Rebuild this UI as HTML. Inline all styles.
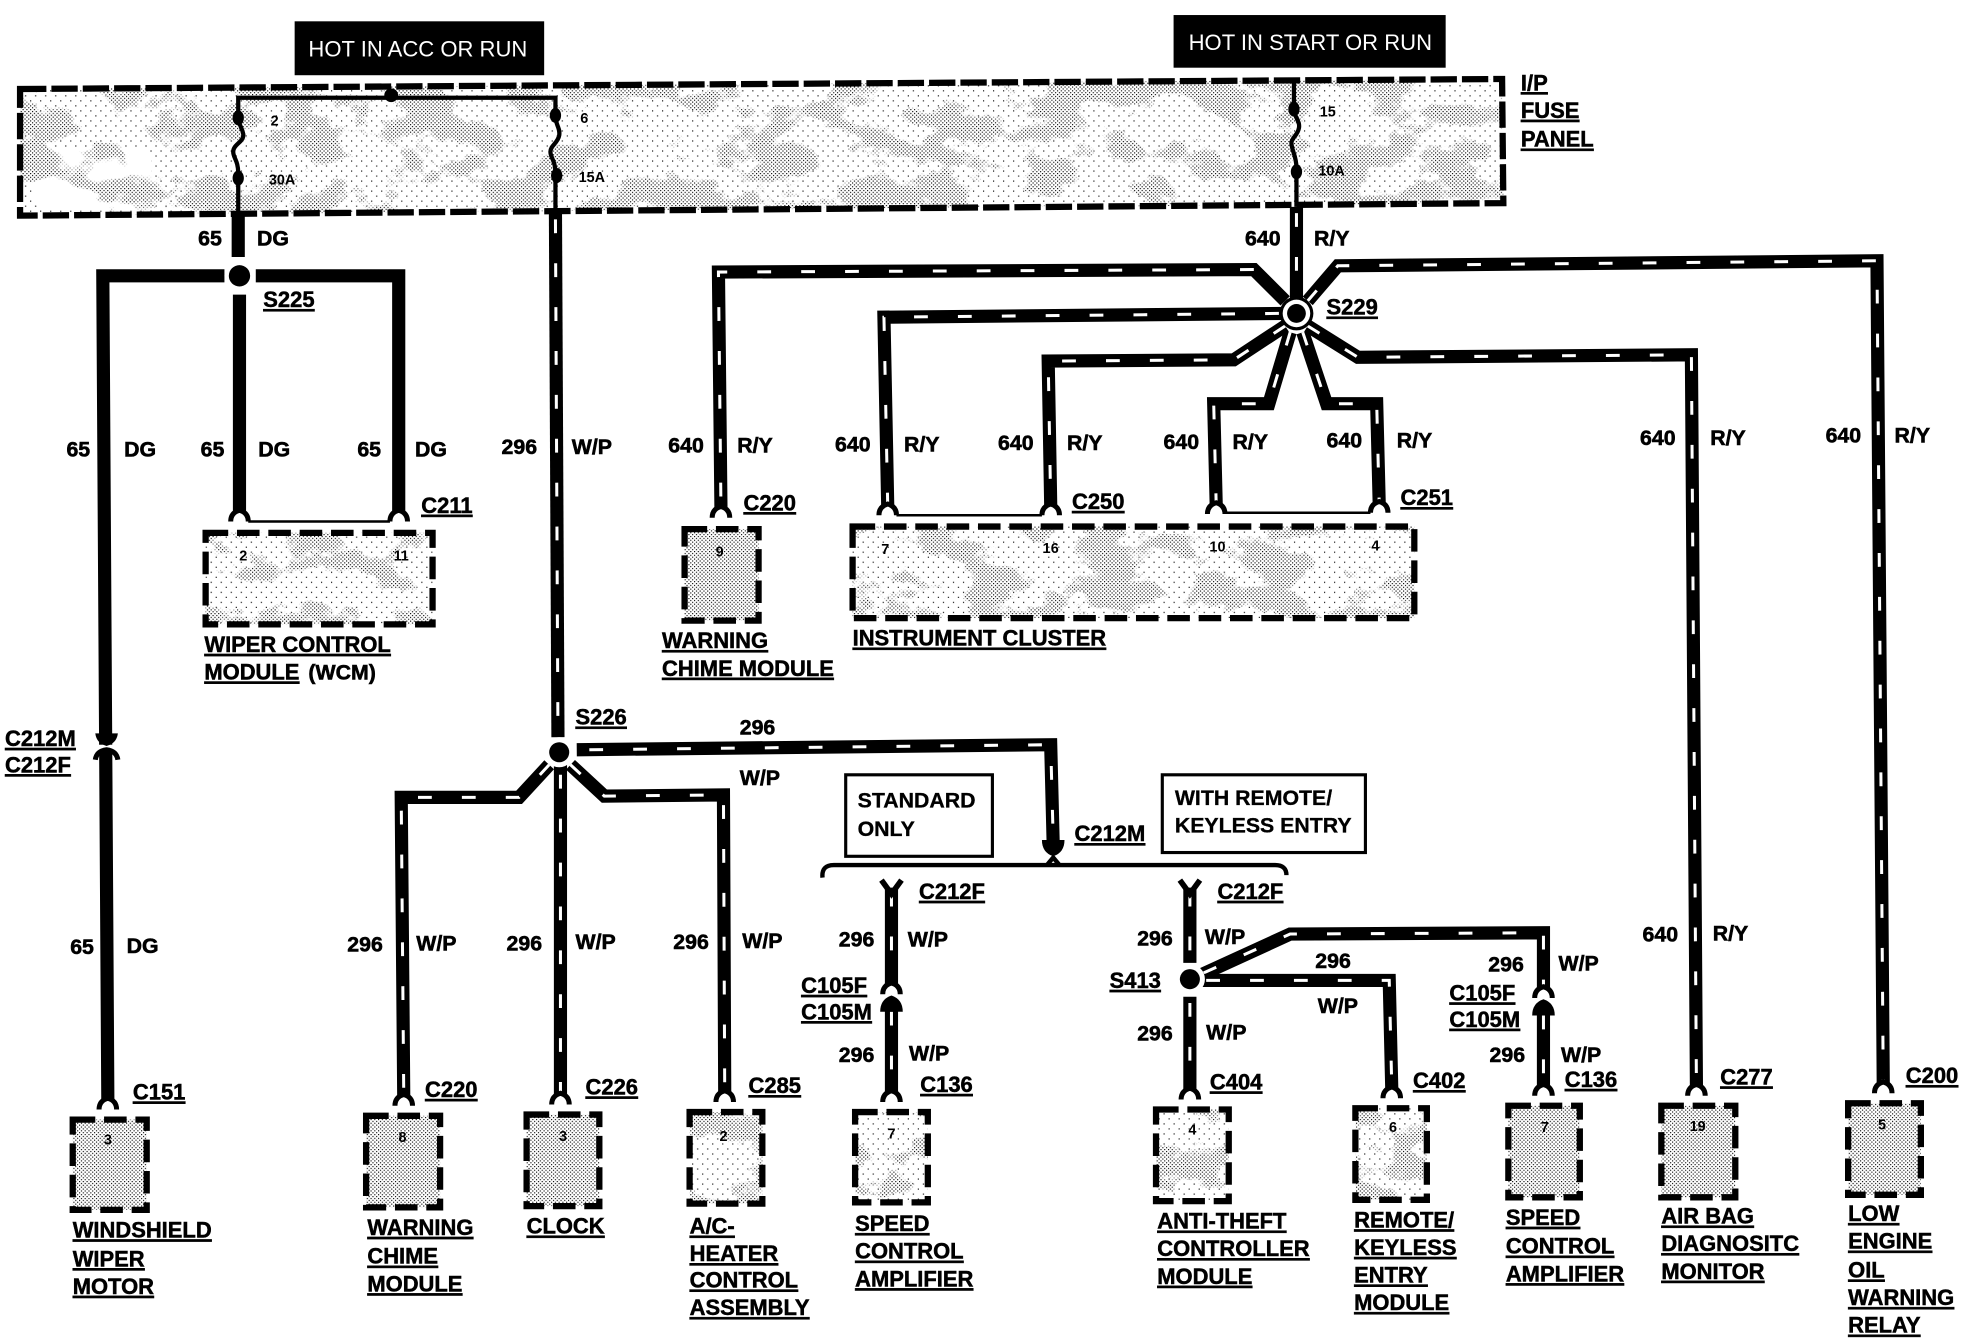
<!DOCTYPE html>
<html><head><meta charset="utf-8"><style>
html,body{margin:0;padding:0;background:#fff}
svg{display:block;font-family:"Liberation Sans",sans-serif}
.l{font-size:17.5px;font-weight:bold;text-decoration:underline;stroke:#000;stroke-width:.4}
.w{font-size:17px;font-weight:bold;stroke:#000;stroke-width:.45}
.p{font-size:11.5px;font-weight:bold;text-anchor:middle}
.b{font-size:17px;font-weight:bold;stroke:#000;stroke-width:.25}
.h{font-size:17.6px;fill:#fff}
.sb{fill:none;stroke:#000;stroke-width:10.5;stroke-linejoin:miter}
.sw{fill:none;stroke:#fff;stroke-width:2.4;stroke-dasharray:11 24}
.dk{fill:none;stroke:#000;stroke-width:10.5}
.bd{fill:none;stroke:#000;stroke-width:5;stroke-dasharray:18 7}
.fd{fill:url(#dn)}
.fs{fill:url(#sp)}
</style></head><body>
<svg width="1966" height="1344" viewBox="0 0 1568 1072" preserveAspectRatio="none" xmlns="http://www.w3.org/2000/svg">
<defs>
<pattern id="dn" width="3" height="3" patternUnits="userSpaceOnUse"><rect width="3" height="3" fill="#fff"/><rect width=".9" height=".9" fill="#000"/><rect x="1.5" y="1.5" width=".9" height=".9" fill="#000"/></pattern>
<pattern id="sp" width="8" height="8" patternUnits="userSpaceOnUse"><rect width="8" height="8" fill="#fff"/><rect width=".9" height=".9" fill="#000"/><rect x="4" y="4" width=".9" height=".9" fill="#000"/></pattern>
<filter id="nz" x="0" y="0" width="100%" height="100%" color-interpolation-filters="sRGB">
<feTurbulence type="fractalNoise" baseFrequency="0.022 0.035" numOctaves="4" seed="7"/>
<feColorMatrix type="matrix" values="0 0 0 0 1  0 0 0 0 1  0 0 0 0 1  14 0 0 0 -7"/>
</filter>
<mask id="mk" maskUnits="userSpaceOnUse" x="0" y="0" width="1568" height="1072"><rect width="1568" height="1072" fill="#fff" filter="url(#nz)"/></mask>
<g id="f"><path d="M-7,6 Q-7,-1 0,-3 Q7,-1 7,6" fill="none" stroke="#000" stroke-width="4"/></g>
<g id="m"><path d="M-9,-7 L9,-7 Q9,3 0,6 Q-9,3 -9,-7Z" fill="#000"/></g>
</defs>
<rect width="1568" height="1072" fill="#fff"/>

<!-- stipple fills -->
<polygon points="16,71 1198,63 1199,162 16,172" class="fs"/>
<rect x="26" y="118" width="95" height="50" rx="12" fill="#fff"/>
<rect x="164" y="425" width="181" height="73" class="fs"/>
<rect x="680" y="420" width="448" height="73" class="fs"/>
<rect x="550" y="887" width="58" height="73" class="fs"/>
<rect x="682" y="887" width="58" height="72" class="fs"/>
<rect x="922" y="885" width="58" height="73" class="fs"/>
<rect x="1081" y="884" width="57" height="73" class="fs"/>
<g mask="url(#mk)">
<polygon points="16,71 1198,63 1199,162 16,172" class="fd"/>
<rect x="164" y="425" width="181" height="73" class="fd"/>
<rect x="680" y="420" width="448" height="73" class="fd"/>
<rect x="550" y="887" width="58" height="73" class="fd"/>
<rect x="682" y="887" width="58" height="72" class="fd"/>
<rect x="922" y="885" width="58" height="73" class="fd"/>
<rect x="1081" y="884" width="57" height="73" class="fd"/>
</g>
<rect x="546" y="422" width="59" height="73" class="fd"/>
<rect x="58" y="893" width="59" height="72" class="fd"/>
<rect x="292" y="890" width="59" height="73" class="fd"/>
<rect x="420" y="889" width="58" height="73" class="fd"/>
<rect x="1203" y="882" width="57" height="73" class="fd"/>
<rect x="1325" y="882" width="59" height="73" class="fd"/>
<rect x="1474" y="880" width="58" height="73" class="fd"/>

<polygon points="16,71 1198,63 1199,162 16,172" fill="none" stroke="#000" stroke-width="5" stroke-dasharray="21 4"/>

<!-- hot boxes -->
<rect x="235" y="17" width="199" height="43" fill="#000"/>
<text x="246" y="45" class="h">HOT IN ACC OR RUN</text>
<rect x="936" y="12" width="217" height="42" fill="#000"/>
<text x="948" y="40" class="h">HOT IN START OR RUN</text>

<!-- internal fuses -->
<g fill="none" stroke="#000" stroke-width="3.4">
<path d="M190,172 V138 C190,128 186,126 186,121 C186,115 195,113 194,107 C193,101 190,100 190,92 V78 H443 V92 C443,100 447,102 446,108 C445,114 439,116 439,121 C439,126 443,128 443,138 V172"/>
<path d="M1032,65 V86 C1032,94 1037,96 1036,102 C1035,108 1030,110 1030,114 C1030,120 1034,124 1034,134 V165"/>
</g>
<g fill="#000"><circle cx="312" cy="76" r="5.5"/><ellipse cx="190" cy="94" rx="4.5" ry="6"/><ellipse cx="190" cy="142" rx="4.5" ry="6"/>
<ellipse cx="443" cy="92" rx="4.5" ry="6"/><ellipse cx="444" cy="140" rx="4.5" ry="6"/><ellipse cx="1032" cy="87" rx="4.5" ry="6"/><ellipse cx="1034" cy="137" rx="4.5" ry="6"/></g>
<text x="219" y="100" class="p">2</text><text x="225" y="147" class="p">30A</text>
<text x="466" y="98" class="p">6</text><text x="472" y="145" class="p">15A</text>
<text x="1059" y="93" class="p">15</text><text x="1062" y="140" class="p">10A</text>

<!-- DG wires -->
<g class="dk">
<path d="M190,172 V205"/>
<path d="M179,220 H82 L86,877"/>
<path d="M204,220 H318 V408"/>
<path d="M191,235 V408"/>
</g>
<circle cx="191" cy="220" r="12" fill="#fff"/><circle cx="191" cy="220" r="8.5" fill="#000"/>
<rect x="72" y="594" width="26" height="4" fill="#fff"/>
<path d="M76,585 H94 Q93,593 85,595 Q77,593 76,585Z" fill="#000"/>
<path d="M76,606 Q77,599 85,598 Q93,599 94,606" fill="none" stroke="#000" stroke-width="4"/>
<use href="#f" x="86" y="879"/><use href="#f" x="191" y="410"/><use href="#f" x="318" y="410"/>
<path d="M198,416 H311" stroke="#000" stroke-width="2"/>

<!-- striped wires S229 -->
<g>
<path class="sb" d="M1034,165 V240"/><path class="sw" d="M1034,170 V236"/>
<path class="sb" d="M1025,240 L1000,215 L573,217 L575,405"/><path class="sw" d="M1000,215 L573,217 L575,405"/>
<path class="sb" d="M1025,250 L705,253 L708,403"/><path class="sw" d="M1020,250 L705,253 L708,403"/>
<path class="sb" d="M1025,260 L984,287 L836,288 L838,403"/><path class="sw" d="M1025,260 L984,287 L836,288 L838,403"/>
<path class="sb" d="M1029,265 L1012,322 L968,322 L970,403"/><path class="sw" d="M1029,265 L1012,322 L968,322 L970,403"/>
<path class="sb" d="M1039,265 L1058,322 L1098,322 L1100,402"/><path class="sw" d="M1039,265 L1058,322 L1098,322 L1100,402"/>
<path class="sb" d="M1043,260 L1083,285 L1349,283 L1353,866"/><path class="sw" d="M1043,260 L1083,285 L1349,283 L1353,866"/>
<path class="sb" d="M1043,240 L1067,212 L1497,208 L1502,864"/><path class="sw" d="M1043,240 L1067,212 L1497,208 L1502,864"/>
</g>
<circle cx="1034" cy="250" r="13.5" fill="#000"/><circle cx="1034" cy="250" r="11" fill="#fff"/><circle cx="1034" cy="250" r="7.5" fill="#000"/>
<use href="#f" x="575" y="407"/><use href="#f" x="708" y="405"/><use href="#f" x="838" y="405"/><use href="#f" x="970" y="404"/><use href="#f" x="1100" y="403"/>
<use href="#f" x="1353" y="868"/><use href="#f" x="1502" y="866"/>
<path d="M715,411 H831 M977,409 H1093" stroke="#000" stroke-width="2"/>

<!-- striped wires S226 -->
<path class="sb" d="M443,170 L445,588"/><path class="sw" d="M443,175 L445,585"/>
<path class="sb" d="M460,598 L838,594 L840,674"/><path class="sw" d="M470,598 L838,594 L840,670"/>
<path class="sb" d="M438,610 L414,636 L320,636 L322,874"/><path class="sw" d="M438,610 L414,636 L320,636 L322,872"/>
<path class="sb" d="M447,610 V873"/><path class="sw" d="M447,618 V871"/>
<path class="sb" d="M455,610 L482,635 L577,634 L578,871"/><path class="sw" d="M455,610 L482,635 L577,634 L578,869"/>
<circle cx="446" cy="600" r="12" fill="#fff"/><circle cx="446" cy="600" r="8" fill="#000"/>
<use href="#f" x="322" y="876"/><use href="#f" x="447" y="875"/><use href="#f" x="578" y="873"/>
<use href="#m" x="840" y="677"/>

<!-- brace -->
<path d="M656,700 Q655,690 665,690 H1017 Q1026,690 1026,698 M835,690 L840,684 L845,690" fill="none" stroke="#000" stroke-width="3.5"/>

<!-- standard branch -->
<path class="sb" d="M711,708 V786"/><path class="sw" d="M711,712 V782"/>
<path class="sb" d="M711,803 V871"/><path class="sw" d="M711,807 V869"/>
<use href="#f" x="711" y="787"/><use href="#m" x="711" y="800" transform="rotate(180 711 800)"/>
<path d="M703,702 L711,713 L719,702" fill="none" stroke="#000" stroke-width="4.5"/>
<use href="#f" x="711" y="873"/>

<!-- keyless branch -->
<path class="sb" d="M949,708 V768"/><path class="sw" d="M949,712 V766"/>
<path class="sb" d="M949,795 V869"/><path class="sw" d="M949,800 V867"/>
<path d="M941,702 L949,713 L957,702" fill="none" stroke="#000" stroke-width="4.5"/>
<path class="sb" d="M957,778 L1029,745 L1231,744 V789"/><path class="sw" d="M960,776 L1029,745 L1231,744 V786"/>
<path class="sb" d="M1231,806 V866"/><path class="sw" d="M1231,810 V864"/>
<use href="#f" x="1231" y="790"/><use href="#m" x="1231" y="803" transform="rotate(180 1231 803)"/>
<path class="sb" d="M958,782 L1108,782 L1110,868"/><path class="sw" d="M962,782 L1108,782 L1110,866"/>
<circle cx="949" cy="781" r="12" fill="#fff"/><circle cx="949" cy="781" r="8" fill="#000"/>
<use href="#f" x="949" y="871"/><use href="#f" x="1110" y="870"/><use href="#f" x="1231" y="868"/>

<!-- option boxes -->
<rect x="674.5" y="618" width="117" height="65" fill="#fff" stroke="#000" stroke-width="2.5"/>
<text x="684" y="644" class="b">STANDARD</text><text x="684" y="667" class="b">ONLY</text>
<rect x="927" y="618" width="162" height="62" fill="#fff" stroke="#000" stroke-width="2.5"/>
<text x="937" y="642" class="b">WITH REMOTE/</text><text x="937" y="664" class="b">KEYLESS ENTRY</text>

<!-- module outlines -->
<rect x="164" y="425" width="181" height="73" class="bd"/>
<rect x="546" y="422" width="59" height="73" class="bd"/>
<rect x="680" y="420" width="448" height="73" class="bd"/>
<rect x="58" y="893" width="59" height="72" class="bd"/>
<rect x="292" y="890" width="59" height="73" class="bd"/>
<rect x="420" y="889" width="58" height="73" class="bd"/>
<rect x="550" y="887" width="58" height="73" class="bd"/>
<rect x="682" y="887" width="58" height="72" class="bd"/>
<rect x="922" y="885" width="58" height="73" class="bd"/>
<rect x="1081" y="884" width="57" height="73" class="bd"/>
<rect x="1203" y="882" width="57" height="73" class="bd"/>
<rect x="1325" y="882" width="59" height="73" class="bd"/>
<rect x="1474" y="880" width="58" height="73" class="bd"/>
<g>
<text x="194" y="447" class="p">2</text><text x="320" y="447" class="p">11</text><text x="574" y="444" class="p">9</text>
<text x="706" y="442" class="p">7</text><text x="838" y="441" class="p">16</text><text x="971" y="440" class="p">10</text><text x="1097" y="439" class="p">4</text>
<text x="86" y="913" class="p">3</text><text x="321" y="911" class="p">8</text><text x="449" y="910" class="p">3</text><text x="577" y="910" class="p">2</text>
<text x="711" y="908" class="p">7</text><text x="951" y="905" class="p">4</text><text x="1111" y="903" class="p">6</text><text x="1232" y="903" class="p">7</text><text x="1354" y="902" class="p">19</text><text x="1501" y="901" class="p">5</text>
</g>

<!-- wire labels -->
<g class="w">
<text x="158" y="196">65</text><text x="205" y="196">DG</text>
<text x="53" y="364">65</text><text x="99" y="364">DG</text>
<text x="160" y="364">65</text><text x="206" y="364">DG</text>
<text x="285" y="364">65</text><text x="331" y="364">DG</text>
<text x="400" y="362">296</text><text x="456" y="362">W/P</text>
<text x="533" y="361">640</text><text x="588" y="361">R/Y</text>
<text x="666" y="360">640</text><text x="721" y="360">R/Y</text>
<text x="796" y="359">640</text><text x="851" y="359">R/Y</text>
<text x="928" y="358">640</text><text x="983" y="358">R/Y</text>
<text x="1058" y="357">640</text><text x="1114" y="357">R/Y</text>
<text x="1308" y="355">640</text><text x="1364" y="355">R/Y</text>
<text x="1456" y="353">640</text><text x="1511" y="353">R/Y</text>
<text x="993" y="196">640</text><text x="1048" y="196">R/Y</text>
<text x="590" y="586">296</text><text x="590" y="626">W/P</text>
<text x="56" y="761">65</text><text x="101" y="760">DG</text>
<text x="277" y="759">296</text><text x="332" y="758">W/P</text>
<text x="404" y="758">296</text><text x="459" y="757">W/P</text>
<text x="537" y="757">296</text><text x="592" y="756">W/P</text>
<text x="669" y="755">296</text><text x="724" y="755">W/P</text>
<text x="669" y="847">296</text><text x="725" y="846">W/P</text>
<text x="907" y="754">296</text><text x="961" y="753">W/P</text>
<text x="907" y="830">296</text><text x="962" y="829">W/P</text>
<text x="1049" y="772">296</text><text x="1051" y="808">W/P</text>
<text x="1187" y="775">296</text><text x="1243" y="774">W/P</text>
<text x="1188" y="847">296</text><text x="1245" y="847">W/P</text>
<text x="1310" y="751">640</text><text x="1366" y="750">R/Y</text>
</g>

<!-- connector & module labels -->
<g class="l">
<text x="1213" y="72">I/P</text><text x="1213" y="94">FUSE</text><text x="1213" y="117">PANEL</text>
<text x="210" y="245">S225</text><text x="1058" y="251">S229</text><text x="459" y="578">S226</text><text x="885" y="788">S413</text>
<text x="336" y="409">C211</text><text x="593" y="407">C220</text><text x="855" y="406">C250</text><text x="1117" y="403">C251</text>
<text x="4" y="595">C212M</text><text x="4" y="616">C212F</text>
<text x="106" y="877">C151</text><text x="339" y="875">C220</text><text x="467" y="873">C226</text><text x="597" y="872">C285</text>
<text x="857" y="671">C212M</text><text x="733" y="717">C212F</text><text x="971" y="717">C212F</text>
<text x="639" y="792">C105F</text><text x="639" y="813">C105M</text><text x="734" y="871">C136</text>
<text x="965" y="869">C404</text><text x="1127" y="868">C402</text>
<text x="1156" y="798">C105F</text><text x="1156" y="819">C105M</text><text x="1248" y="867">C136</text>
<text x="1372" y="865">C277</text><text x="1520" y="864">C200</text>
<text x="163" y="520">WIPER CONTROL</text><text x="163" y="542">MODULE</text>
<text x="528" y="517">WARNING</text><text x="528" y="539">CHIME MODULE</text>
<text x="680" y="515">INSTRUMENT CLUSTER</text>
<text x="58" y="987">WINDSHIELD</text><text x="58" y="1010">WIPER</text><text x="58" y="1032">MOTOR</text>
<text x="293" y="985">WARNING</text><text x="293" y="1008">CHIME</text><text x="293" y="1030">MODULE</text>
<text x="420" y="984">CLOCK</text>
<text x="550" y="984">A/C-</text><text x="550" y="1006">HEATER</text><text x="550" y="1027">CONTROL</text><text x="550" y="1049">ASSEMBLY</text>
<text x="682" y="982">SPEED</text><text x="682" y="1004">CONTROL</text><text x="682" y="1026">AMPLIFIER</text>
<text x="923" y="980">ANTI-THEFT</text><text x="923" y="1002">CONTROLLER</text><text x="923" y="1024">MODULE</text>
<text x="1080" y="979">REMOTE/</text><text x="1080" y="1001">KEYLESS</text><text x="1080" y="1023">ENTRY</text><text x="1080" y="1045">MODULE</text>
<text x="1201" y="977">SPEED</text><text x="1201" y="1000">CONTROL</text><text x="1201" y="1022">AMPLIFIER</text>
<text x="1325" y="976">AIR BAG</text><text x="1325" y="998">DIAGNOSITC</text><text x="1325" y="1020">MONITOR</text>
<text x="1474" y="974">LOW</text><text x="1474" y="996">ENGINE</text><text x="1474" y="1019">OIL</text><text x="1474" y="1041">WARNING</text><text x="1474" y="1063">RELAY</text>
</g>
<text x="246" y="542" class="w">(WCM)</text>
</svg>
</body></html>
